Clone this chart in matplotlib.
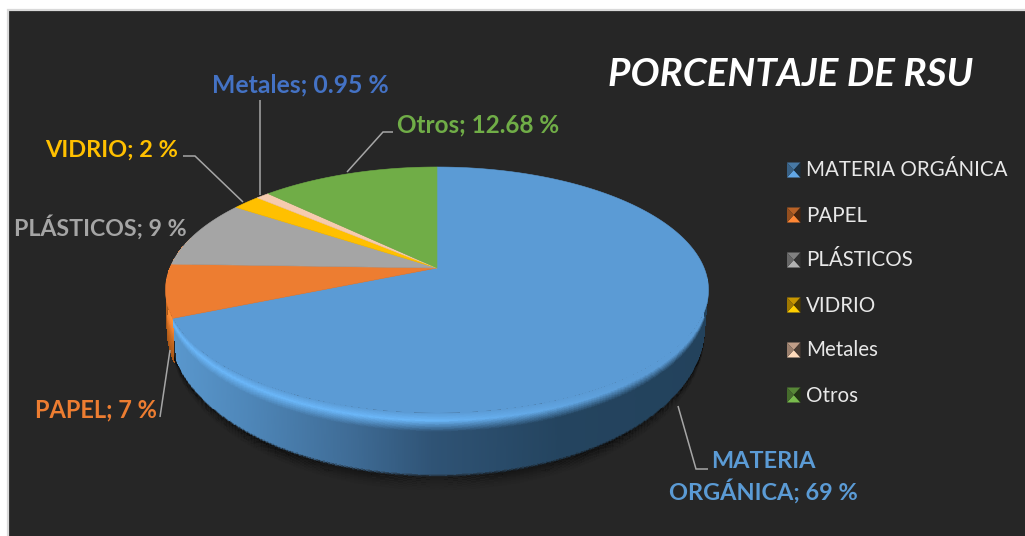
import numpy as np
import matplotlib
matplotlib.use("Agg")
import matplotlib.pyplot as plt
from matplotlib.colors import to_rgb
from matplotlib.patches import Rectangle, Polygon

# ---- data ----
categories = ["MATERIA ORGÁNICA", "PAPEL", "PLÁSTICOS", "VIDRIO", "Metales", "Otros"]
values = [69, 7, 9, 2, 0.95, 12.68]
value_text = ["69 %", "7 %", "9 %", "2 %", "0.95 %", "12.68 %"]
colors = ["#5B9BD5", "#ED7D31", "#A5A5A5", "#FFC000", "#F6CBAE", "#70AD47"]
label_colors = ["#5B9BD5", "#ED7D31", "#A5A5A5", "#FFC000", "#4472C4", "#70AD47"]
title = "PORCENTAJE DE RSU"

plt.rcParams["font.family"] = ["Lato", "DejaVu Sans"]
BG = "#262626"

fig = plt.figure(figsize=(10.25, 5.36), dpi=100, facecolor="white")
ax = fig.add_axes([0, 0, 1, 1])
ax.set_xlim(0, 1025)
ax.set_ylim(536, 0)
ax.axis("off")
ax.add_patch(Rectangle((7.5, 10), 1030, 540, fc=BG, ec="#D9D9D9", lw=1.6, zorder=0))

# ---- pie geometry (layout, pixels) ----
CX, CY = 437.0, 268.0      # slice apex
UP, DOWN = 101.0, 145.0    # apex to top / bottom of face
K = (DOWN - UP) / (DOWN + UP)
A = UP * (1 + K)
RX = 271.5
B = RX * np.sqrt(1 - K ** 2)
FACE_CY = CY + A * K / (1 - K ** 2)
FACE_RY = (UP + DOWN) / 2
BOT_R, BOT_A, BOT_C = 268.0, 150.0, 327.0


def project(frac):
    """fraction of the circle, clockwise from 12 o'clock -> pixel position"""
    ang = 2 * np.pi * np.asarray(frac)
    u, v = np.sin(ang), np.cos(ang)
    w = 1 / (1 + K * v)
    return CX + B * u * w, CY - A * v * w


def phi_of(frac):
    x, y = project(frac)
    p = np.arctan2((y - FACE_CY) / FACE_RY, (x - CX) / RX)
    return np.mod(p, 2 * np.pi)


def extrude(phi, t, r0=RX, r1=BOT_R):
    """phi: ellipse angle (screen, y down); t: depth 0..1+"""
    P, T = np.meshgrid(phi, t)
    R = r0 + (r1 - r0) * T
    H = FACE_RY + (BOT_A - FACE_RY) * T
    C = FACE_CY + (BOT_C - FACE_CY) * T
    return CX + R * np.cos(P), C + H * np.sin(P)


def lerp_stops(x, xs, cols):
    cols = np.array([to_rgb(c) for c in cols])
    return np.stack([np.interp(x, xs, cols[:, i]) for i in range(3)], axis=-1)


fractions = np.cumsum([0] + values) / np.sum(values)
phi_blue_end = phi_of(fractions[1])

# ---- soft shadow under the pie ----
phi_s = np.radians(np.linspace(-12, 192, 210))
t_s = np.linspace(0.97, 1.22, 26)
Xs, Ys = extrude(phi_s, t_s)
Cs = np.zeros((len(t_s) - 1, len(phi_s) - 1, 4))
tc = 0.5 * (t_s[:-1] + t_s[1:])
pc = 0.5 * (phi_s[:-1] + phi_s[1:])
Cs[..., 3] = (0.28 * np.clip((1.22 - tc) / 0.25, 0, 1) ** 1.5)[:, None] * np.clip(np.sin(pc) + 0.25, 0, 1)[None, :]
ax.pcolormesh(Xs, Ys, Cs, zorder=1, antialiased=False, rasterized=True)

# ---- orange wall, behind the blue one ----
phi_o = np.radians(np.linspace(166, 205, 60))
t_o = np.linspace(0, 1, 50)
Xo, Yo = extrude(phi_o, t_o, r1=RX - 1)
tco = 0.5 * (t_o[:-1] + t_o[1:])
Co = lerp_stops(tco, [0, 0.08, 0.3, 0.6, 1], [colors[1], "#FF9336", "#F08232", "#C8691F", "#A85718"])
Co = np.repeat(Co[:, None, :], len(phi_o) - 1, axis=1)
Co = np.dstack([Co, np.ones(Co.shape[:2])])
ax.pcolormesh(Xo, Yo, Co, zorder=2, antialiased=False, rasterized=True)

# ---- blue wall with rounded bevel ----
phi_b = np.linspace(np.radians(-6), phi_blue_end, 420)
t_b = np.linspace(0, 1, 90)
Xb, Yb = extrude(phi_b, t_b)
xc = 0.25 * (Xb[:-1, :-1] + Xb[1:, :-1] + Xb[:-1, 1:] + Xb[1:, 1:])
T = 0.5 * (t_b[:-1] + t_b[1:])[:, None] * np.ones_like(xc)
side = lerp_stops(xc, [170, 250, 350, 433, 560, 710],
                  ["#5A98CE", "#4E86B8", "#3F6C96", "#2F5375", "#24445F", "#23425C"])
face = np.array(to_rgb(colors[0]))
high = np.array(to_rgb("#6AB6F8"))
strength = np.clip((640 - xc) / 220, 0, 1)[..., None]
peak = face + (high - face) * strength
w1 = np.clip(T / 0.12, 0, 1)[..., None]
w2 = np.clip((T - 0.12) / 0.17, 0, 1)[..., None]
rgb = face + (peak - face) * w1
rgb = rgb + (side - rgb) * w2
alpha = np.clip((1 - T) / 0.05, 0, 1)
Cb = np.dstack([rgb, alpha])
ax.pcolormesh(Xb, Yb, Cb, zorder=3, antialiased=False, rasterized=True)

# ---- top face: one wedge per value ----
for i, col in enumerate(colors):
    fr = np.linspace(fractions[i], fractions[i + 1], max(int(values[i] * 8), 6))
    x, y = project(fr)
    ax.add_patch(Polygon(np.column_stack([np.r_[CX, x], np.r_[CY, y]]), closed=True,
                         fc=col, ec=col, lw=0.4, zorder=4))

# ---- leader lines ----
LEAD = "#A6A6A6"
leaders = [
    ([678, 696, 708], [406, 469, 469]),
    ([160, 170], [417, 350]),
    ([183, 195, 243], [156, 156, 202]),
    ([260, 260], [100, 195]),
    ([393, 383, 347], [132, 132, 172]),
]
for lx, ly in leaders:
    ax.plot(lx, ly, color=LEAD, lw=1.1, zorder=6, solid_capstyle="butt", solid_joinstyle="miter")

# ---- data labels ----
label_fs = [16.9, 17.0, 16.7, 16.9, 17.8, 17.5]
label_pos = [(763.5, 477.5), (95.5, 410), (100.5, 227), (112, 150), (300, 85), (478, 125)]
for i, (lx, ly) in enumerate(label_pos):
    name = "MATERIA\nORGÁNICA" if i == 0 else categories[i]
    ax.text(lx, ly, f"{name}; {value_text[i]}", color=label_colors[i], fontsize=label_fs[i],
            fontweight="bold", ha="center", va="center", linespacing=1.3, zorder=7)

# ---- title ----
ax.text(790.5, 74, title, color="white", fontsize=27.8, fontweight="bold",
        fontstyle="italic", ha="center", va="center", zorder=7)

# ---- legend with pyramid markers ----
legend_y = [170, 215, 260, 305, 350, 395]
for name, col, ly in zip(categories, colors, legend_y):
    base = np.array(to_rgb(col))
    x0, x1, y0, y1 = 787, 800.5, ly - 7.5, ly + 7.5
    xm, ym = (x0 + x1) / 2, (y0 + y1) / 2
    tris = [
        ([x0, x1, xm], [y0, y0, ym], base * 0.78),
        ([x0, x1, xm], [y1, y1, ym], np.clip(base * 1.08, 0, 1)),
        ([x0, x0, xm], [y0, y1, ym], base * 0.62),
        ([x1, x1, xm], [y0, y1, ym], base * 0.3),
    ]
    for tx, ty, c in tris:
        ax.fill(tx, ty, color=c, lw=0, zorder=6)
    ax.text(806, ly + 0.5, name, color="#E8E8E8", fontsize=14.8, ha="left", va="center", zorder=7)

fig.savefig("out.png", dpi=100, facecolor="white")
